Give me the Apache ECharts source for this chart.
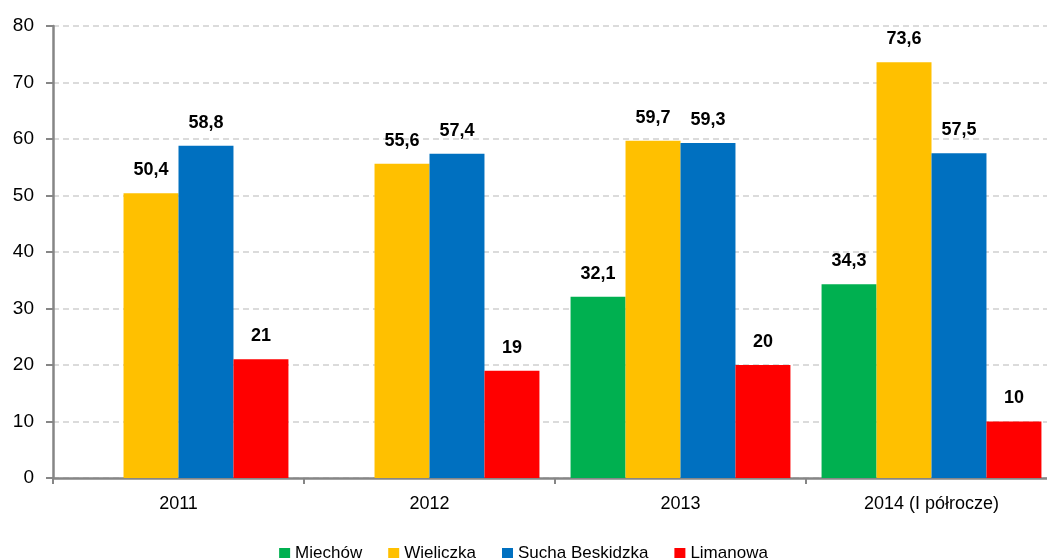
<!DOCTYPE html>
<html><head><meta charset="utf-8">
<script src="https://cdn.jsdelivr.net/npm/echarts@6/dist/echarts.min.js"></script>
<style>html,body{margin:0;padding:0;background:#fff}#c{width:1047px;height:558px}</style>
</head><body><div id="c"></div>
<script>
const categories = ['2011', '2012', '2013', '2014 (I półrocze)'];
const seriesNames = ['Miechów', 'Wieliczka', 'Sucha Beskidzka', 'Limanowa'];
const miechow = [null, null, 32.1, 34.3];
const wieliczka = [50.4, 55.6, 59.7, 73.6];
const sucha = [58.8, 57.4, 59.3, 57.5];
const limanowa = [21, 19, 20, 10];
const colors = ['#00b050', '#ffc000', '#0070c0', '#ff0000'];
const yTicks = [0, 10, 20, 30, 40, 50, 60, 70, 80];

const font = '"Liberation Sans", Arial, sans-serif';
const values = [miechow, wieliczka, sucha, limanowa];
const chart = echarts.init(document.getElementById('c'));
chart.setOption({
  animation: false,
  grid: { left: 53, width: 1004, top: 26, bottom: 80, outerBoundsMode: 'none', containLabel: false },
  legend: {
    top: 540, left: 'center', itemWidth: 11, itemHeight: 11, itemGap: 26,
    icon: 'rect',
    textStyle: { fontFamily: font, fontSize: 17, color: '#000' },
    data: seriesNames
  },
  xAxis: {
    type: 'category', data: categories,
    axisLine: { lineStyle: { color: '#868686', width: 2.5 } },
    axisTick: { show: true, length: 6, lineStyle: { color: '#868686', width: 2 } },
    axisLabel: { fontFamily: font, fontSize: 18, color: '#000', margin: 17 }
  },
  yAxis: {
    type: 'value', min: yTicks[0], max: yTicks[yTicks.length - 1], interval: 10,
    axisLine: { show: true, lineStyle: { color: '#868686', width: 2.5 } },
    axisTick: { show: true, length: 7, lineStyle: { color: '#868686', width: 2 } },
    axisLabel: { fontFamily: font, fontSize: 19, color: '#000', margin: 19 },
    splitLine: { lineStyle: { color: '#d0d0d0', type: [6, 4], width: 1.5 } }
  },
  series: seriesNames.map((n, i) => ({
    name: n, type: 'bar', data: values[i],
    barGap: '0%', barCategoryGap: '12.4%',
    itemStyle: { color: colors[i] },
    label: {
      show: true, position: 'top', distance: 14,
      fontFamily: font, fontSize: 18, fontWeight: 'bold', color: '#000',
      formatter: p => String(p.value).replace('.', ',')
    }
  }))
});
</script></body></html>
